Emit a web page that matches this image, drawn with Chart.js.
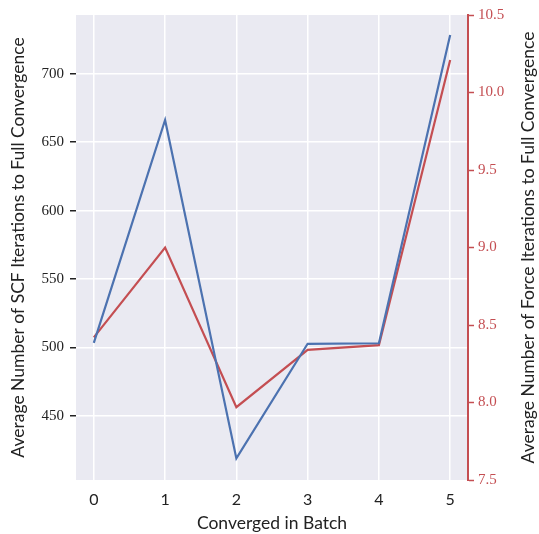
<!DOCTYPE html>
<html>
<head>
<meta charset="utf-8">
<script src="https://cdn.jsdelivr.net/npm/chart.js@4"></script>
<style>
  html, body { margin: 0; padding: 0; background: #fff; }
  #wrap { width: 539px; height: 534px; }
</style>
</head>
<body>
<div id="wrap"><canvas id="chart" width="539" height="534"></canvas></div>
<script>
const batches = [0, 1, 2, 3, 4, 5];
const scfIterations = [503.3, 666.2, 418.8, 502.6, 503.0, 728.4];
const forceIterations = [8.42, 9.0, 7.97, 8.34, 8.37, 10.21];
const scfTicks = [450, 500, 550, 600, 650, 700];
const forceTicks = [7.5, 8.0, 8.5, 9.0, 9.5, 10.0, 10.5];
const leftTitle = 'Average Number of SCF Iterations to Full Convergence';
const rightTitle = 'Average Number of Force Iterations to Full Convergence';

const blue = '#4C72B0';
const red = '#C44E52';
const serif = '"Liberation Serif", "DejaVu Serif", serif';
const sans = 'Lato, "Open Sans", "DejaVu Sans", sans-serif';

const plotBg = {
    id: 'plotBg',
    beforeDraw(chart) {
        const { ctx, chartArea } = chart;
        ctx.save();
        ctx.fillStyle = '#EAEAF2';
        ctx.fillRect(chartArea.left, chartArea.top, chartArea.right - chartArea.left, chartArea.bottom - chartArea.top);
        ctx.restore();
    }
};

// both y titles read bottom-to-top, like matplotlib twinx
const yTitles = {
    id: 'yTitles',
    afterDraw(chart) {
        const { ctx, chartArea } = chart;
        const midY = (chartArea.top + chartArea.bottom) / 2;
        ctx.save();
        ctx.fillStyle = '#222';
        ctx.font = '17.5px ' + sans;
        ctx.textAlign = 'center';
        ctx.textBaseline = 'middle';
        for (const [x, text] of [[18, leftTitle], [528, rightTitle]]) {
            ctx.save();
            ctx.translate(x, midY);
            ctx.rotate(-Math.PI / 2);
            ctx.fillText(text, 0, 0);
            ctx.restore();
        }
        ctx.restore();
    }
};

new Chart(document.getElementById('chart'), {
    type: 'line',
    data: {
        datasets: [{
            label: 'SCF',
            data: batches.map((b, i) => ({ x: b, y: scfIterations[i] })),
            borderColor: blue,
            borderWidth: 2.2,
            pointRadius: 0,
            yAxisID: 'y'
        }, {
            label: 'Force',
            data: batches.map((b, i) => ({ x: b, y: forceIterations[i] })),
            borderColor: red,
            borderWidth: 2.2,
            pointRadius: 0,
            yAxisID: 'y2'
        }]
    },
    options: {
        responsive: false,
        animation: false,
        layout: { padding: { top: 14, left: 0, right: 0, bottom: 0 } },
        plugins: { legend: { display: false }, tooltip: { enabled: false } },
        scales: {
            x: {
                type: 'linear',
                min: -0.25,
                max: 5.25,
                afterBuildTicks: (axis) => { axis.ticks = batches.map(v => ({ value: v })); },
                afterFit: (axis) => { axis.height = 54; },
                grid: { color: '#ffffff', lineWidth: 1.5, drawTicks: false },
                border: { display: false },
                ticks: { color: '#222', padding: 10, font: { family: sans, size: 16 } },
                title: { display: true, text: 'Converged in Batch', color: '#222', padding: { top: 1, bottom: 0 }, font: { family: sans, size: 17.5 } }
            },
            y: {
                position: 'left',
                min: 403,
                max: 743,
                afterBuildTicks: (axis) => { axis.ticks = scfTicks.map(v => ({ value: v })); },
                afterFit: (axis) => { axis.width = 76; },
                grid: { color: '#ffffff', lineWidth: 1.5, tickColor: '#222', tickLength: 6, tickWidth: 1.5 },
                border: { display: false },
                ticks: { color: '#222', padding: 6, font: { family: serif, size: 15 } }
            },
            y2: {
                position: 'right',
                min: 7.5,
                max: 10.5,
                afterBuildTicks: (axis) => { axis.ticks = forceTicks.map(v => ({ value: v })); },
                afterFit: (axis) => { axis.width = 71; },
                grid: { drawOnChartArea: false, tickColor: red, tickLength: 6, tickWidth: 1.5 },
                border: { display: true, color: red, width: 2 },
                ticks: { color: red, padding: 4, font: { family: serif, size: 15 }, callback: (v) => Number(v).toFixed(1) }
            }
        }
    },
    plugins: [plotBg, yTitles]
});
</script>
</body>
</html>
